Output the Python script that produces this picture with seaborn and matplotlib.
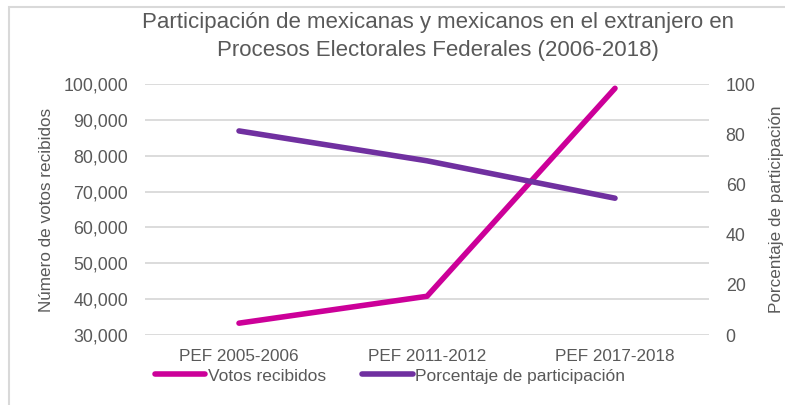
import matplotlib
matplotlib.use("Agg")
import matplotlib.pyplot as plt
import seaborn as sns
import pandas as pd
from matplotlib.patches import Rectangle
from matplotlib.ticker import FuncFormatter, MultipleLocator

categorias = ["PEF 2005-2006", "PEF 2011-2012", "PEF 2017-2018"]
votos = [33300, 40800, 98800]
porcentaje = [81.3, 69.4, 54.5]

sns.set_theme(style="white")
plt.rcParams["font.family"] = ["Liberation Sans", "DejaVu Sans"]

gray = "#595959"
pink = "#CC0099"
purple = "#7030A0"

df = pd.DataFrame({"cat": categorias, "votos": votos, "pct": porcentaje})

fig = plt.figure(figsize=(7.85, 4.05), dpi=100)
ax = fig.add_axes([145/785, 1-335/405, (709-145)/785, (335-84)/405])
ax2 = ax.twinx()

sns.lineplot(data=df, x="cat", y="votos", ax=ax, color=pink, lw=4, sort=False,
             solid_capstyle="round", label="Votos recibidos", legend=False)
sns.lineplot(data=df, x="cat", y="pct", ax=ax2, color=purple, lw=4, sort=False,
             solid_capstyle="round", label="Porcentaje de participación", legend=False)

ax.set_xlim(-0.5, 2.5)
ax.set_ylim(30000, 100000)
ax.yaxis.set_major_locator(MultipleLocator(10000))
ax.yaxis.set_major_formatter(FuncFormatter(lambda v, p: f"{int(v):,}"))
ax2.set_ylim(0, 100)
ax2.yaxis.set_major_locator(MultipleLocator(20))

ax.grid(axis="y", color="#d9d9d9", lw=1.3)
ax.set_axisbelow(True)
for a in (ax, ax2):
    for s in a.spines.values():
        s.set_visible(False)
    a.tick_params(length=0, labelsize=12.8, colors=gray)
ax.tick_params(axis="x", labelsize=12.3)
ax.tick_params(axis="y", pad=12)
ax.tick_params(axis="x", pad=10)
ax2.tick_params(axis="y", pad=12)
ax.set_xlabel("")
ax.set_ylabel("Número de votos recibidos", fontsize=12.3, color=gray, labelpad=7)
ax2.set_ylabel("Porcentaje de participación", fontsize=12.3, color=gray, labelpad=9.5)

fig.text(438/785, 1-36.5/405, "Participación de mexicanas y mexicanos en el extranjero en\nProcesos Electorales Federales (2006-2018)",
         ha="center", va="center", fontsize=16, color=gray, linespacing=1.45)

h1, l1 = ax.get_legend_handles_labels()
h2, l2 = ax2.get_legend_handles_labels()
fig.legend(h1 + h2, l1 + l2, loc="center left", bbox_to_anchor=(139/785, 1-376/405),
           ncol=2, frameon=False, fontsize=12.5, handlelength=2.9, handletextpad=0.15,
           columnspacing=2.1, labelcolor=gray)

fig.patches.append(Rectangle((9/785, -0.1), 1.2, 1-7/405 + 0.1, transform=fig.transFigure,
                             fill=False, edgecolor="#d9d9d9", lw=1.5))

fig.savefig("out.png", dpi=100)
